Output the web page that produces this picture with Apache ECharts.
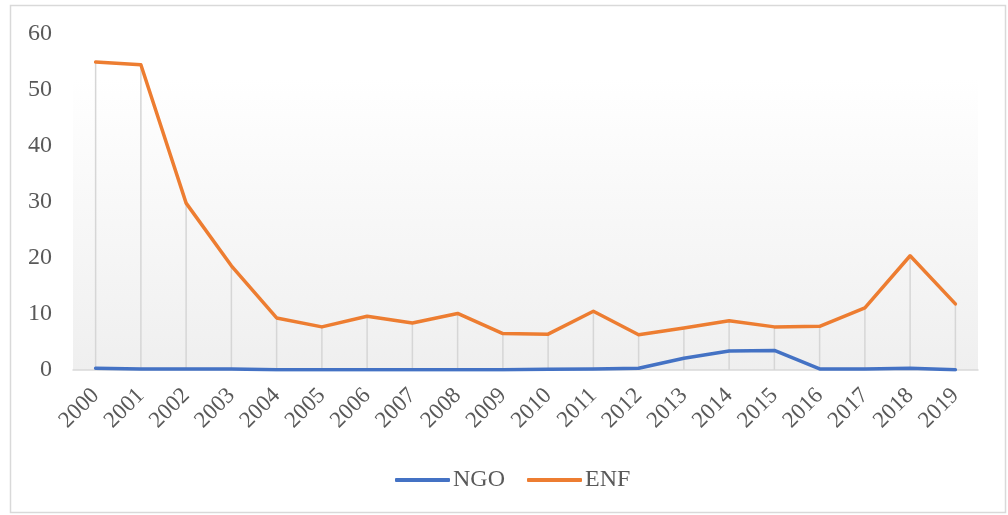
<!DOCTYPE html>
<html>
<head>
<meta charset="utf-8">
<script src="https://cdn.jsdelivr.net/npm/echarts@6/dist/echarts.min.js"></script>
<style>
html,body{margin:0;padding:0;background:#fff;}
#chart{width:1008px;height:515px;}
</style>
</head>
<body>
<div id="chart"></div>
<script>
const years = ['2000','2001','2002','2003','2004','2005','2006','2007','2008','2009','2010','2011','2012','2013','2014','2015','2016','2017','2018','2019'];
const ngo = [0.3,0.2,0.2,0.2,0.05,0.05,0.05,0.05,0.05,0.05,0.15,0.2,0.3,2.1,3.4,3.5,0.2,0.2,0.3,0.05];
const enf = [55.0,54.5,29.8,18.6,9.3,7.7,9.6,8.4,10.1,6.5,6.4,10.5,6.3,7.5,8.8,7.7,7.8,11.1,20.4,11.8];
const yTicks = [0,10,20,30,40,50,60];

const dropLines = years.map((y,i)=>Math.max(ngo[i],enf[i]));
const font = '"Liberation Serif","Times New Roman",serif';

const chart = echarts.init(document.getElementById('chart'), null, {renderer:'canvas'});
chart.setOption({
  animation:false,
  backgroundColor:'#ffffff',
  graphic:[{
    type:'rect', z:-10, silent:true,
    shape:{x:10.5,y:5.5,width:995,height:507},
    style:{fill:'none',stroke:'#d9d9d9',lineWidth:1.5}
  }],
  grid:{
    left:73, right:30, top:34, height:336,
    show:true, borderWidth:0,
    backgroundColor:new echarts.graphic.LinearGradient(0,0,0,1,[
      {offset:0,color:'#ffffff'},
      {offset:0.13,color:'#ffffff'},
      {offset:1,color:'#efefef'}
    ])
  },
  legend:{
    data:['NGO','ENF'],
    top:463, left:390,
    itemWidth:55, itemHeight:4, itemGap:22,
    icon:'roundRect',
    textStyle:{fontFamily:font,fontSize:24,color:'#595959',padding:[0,0,0,-2]}
  },
  xAxis:{
    type:'category', data:years, boundaryGap:true,
    axisLine:{show:true,lineStyle:{color:'#d9d9d9',width:1.5}},
    axisTick:{show:false},
    axisLabel:{rotate:45,interval:0,margin:22,fontFamily:font,fontSize:23,color:'#595959'},
    splitLine:{show:false}
  },
  yAxis:{
    type:'value', min:0, max:60, interval:10,
    axisLine:{show:false}, axisTick:{show:false},
    splitLine:{show:false},
    axisLabel:{margin:21,fontFamily:font,fontSize:24,color:'#595959',
      formatter:function(v){return yTicks.indexOf(v)>=0?String(v):'';}}
  },
  series:[
    {name:'drop', type:'bar', data:dropLines, barWidth:1.5, silent:true, z:1,
     itemStyle:{color:'#d6d6d6'}, legendHoverLink:false, tooltip:{show:false}},
    {name:'NGO', type:'line', data:ngo, symbol:'none', z:3,
     lineStyle:{color:'#4472C4',width:3.5,cap:'round',join:'round'}, itemStyle:{color:'#4472C4'}},
    {name:'ENF', type:'line', data:enf, symbol:'none', z:4,
     lineStyle:{color:'#ED7D31',width:3.5,cap:'round',join:'round'}, itemStyle:{color:'#ED7D31'}}
  ]
});
</script>
</body>
</html>
